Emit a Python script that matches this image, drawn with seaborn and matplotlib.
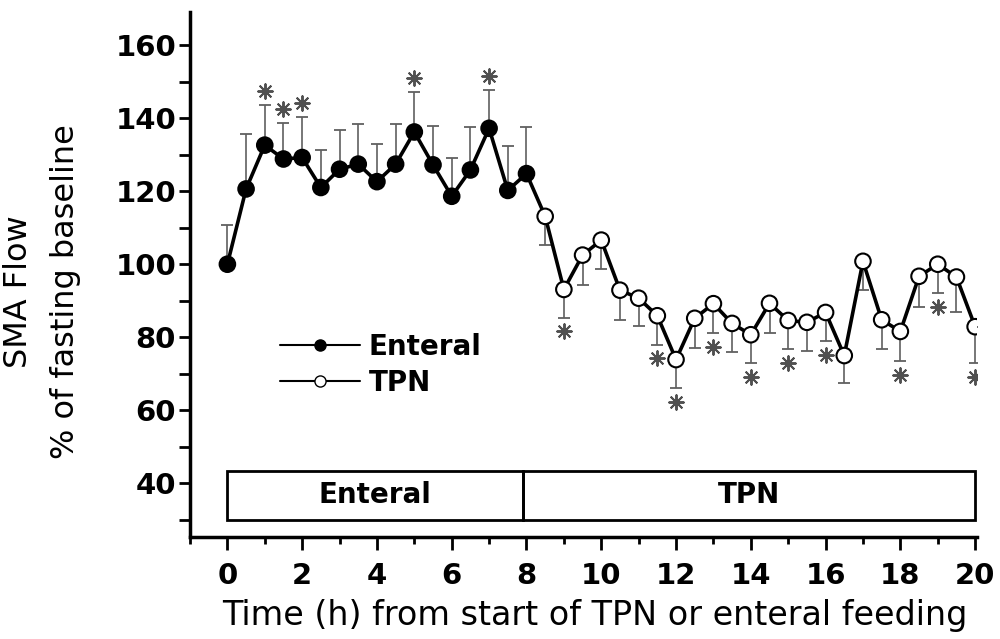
import matplotlib
matplotlib.use('Agg')
import numpy as np
import pandas as pd
import seaborn as sns
import matplotlib.pyplot as plt
from matplotlib.lines import Line2D
from matplotlib.patches import Rectangle
from matplotlib.ticker import MultipleLocator

# dados (media e limite da barra de erro)
enteral_time = [0, 0.5, 1, 1.5, 2, 2.5, 3, 3.5, 4, 4.5, 5, 5.5, 6, 6.5, 7, 7.5, 8]
enteral_mean = [100, 120.6, 132.6, 128.8, 129.2, 121, 126, 127.4, 122.6, 127.4,
                136.2, 127.2, 118.6, 125.8, 137.2, 120.2, 124.8]
enteral_upper = [110.6, 135.6, 143.7, 138.7, 140.3, 131.2, 136.7, 138.5, 132.8, 138.5,
                 147.1, 137.8, 129.2, 137.6, 147.8, 132.3, 137.5]

tpn_time = [8.5, 9, 9.5, 10, 10.5, 11, 11.5, 12, 12.5, 13, 13.5, 14, 14.5, 15,
            15.5, 16, 16.5, 17, 17.5, 18, 18.5, 19, 19.5, 20]
tpn_mean = [113.1, 93.1, 102.5, 106.6, 92.9, 90.7, 85.9, 73.9, 85.2, 89.2, 83.8, 80.7,
            89.3, 84.6, 84.1, 86.8, 75.0, 100.8, 84.8, 81.6, 96.7, 100.0, 96.5, 82.9]
tpn_lower = [105.3, 85.4, 94.4, 98.8, 84.8, 83.0, 78.0, 66.2, 77.1, 81.2, 75.9, 73.0,
             81.2, 76.8, 76.2, 78.9, 67.4, 92.9, 76.8, 73.6, 88.4, 92.2, 86.8, 73.0]

# pontos com diferenca significativa
enteral_star = [1, 1.5, 2, 5, 7]
tpn_star = [9, 11.5, 12, 13, 14, 15, 16, 18, 19, 20]

# faixa com as fases
phase_names = ['Enteral', 'TPN']
phase_start = [0, 7.9]
phase_end = [7.9, 20]

sns.set_style('ticks')
plt.rcParams['font.family'] = ['DejaVu Sans']
for key in ['text.color', 'axes.labelcolor', 'xtick.color', 'ytick.color', 'axes.edgecolor']:
    plt.rcParams[key] = 'black'

df = pd.DataFrame({
    'time': enteral_time + tpn_time,
    'flow': enteral_mean + tpn_mean,
    'group': ['Enteral'] * len(enteral_time) + ['TPN'] * len(tpn_time),
})

fig = plt.figure(figsize=(10, 6.39), dpi=100)
ax = fig.add_axes([0.19, 0.16, 0.787, 0.821])

# barras de erro unilaterais
e_mean = np.array(enteral_mean)
t_mean = np.array(tpn_mean)
ax.errorbar(enteral_time, e_mean,
            yerr=[np.zeros(len(e_mean)), np.array(enteral_upper) - e_mean],
            fmt='none', ecolor='#606060', elinewidth=1.2, capsize=4, capthick=1.3, zorder=1)
ax.errorbar(tpn_time, t_mean,
            yerr=[t_mean - np.array(tpn_lower), np.zeros(len(t_mean))],
            fmt='none', ecolor='#606060', elinewidth=1.2, capsize=4, capthick=1.3, zorder=1)

# linha continua
sns.lineplot(data=df, x='time', y='flow', color='black', linewidth=2.6,
             estimator=None, sort=True, ax=ax, zorder=2)

# marcadores
sns.scatterplot(data=df, x='time', y='flow', hue='group',
                palette={'Enteral': 'black', 'TPN': 'white'},
                edgecolor='black', linewidth=1.5, s=125, legend=False, ax=ax, zorder=3)

# asteriscos
gap = 3.8
idx_e = [enteral_time.index(t) for t in enteral_star]
idx_t = [tpn_time.index(t) for t in tpn_star]
ax.scatter(enteral_star, [enteral_upper[i] + gap for i in idx_e], marker=(8, 2, 0),
           s=110, color='#505050', linewidths=1.4, zorder=3)
ax.scatter(tpn_star, [tpn_lower[i] - gap for i in idx_t], marker=(8, 2, 0),
           s=110, color='#505050', linewidths=1.4, zorder=3)

# caixa das fases
for name, x0, x1 in zip(phase_names, phase_start, phase_end):
    ax.add_patch(Rectangle((x0, 30), x1 - x0, 13.4, fill=False,
                           edgecolor='black', linewidth=2, zorder=2))
    ax.text((x0 + x1) / 2, 36.7, name, ha='center', va='center',
            fontsize=20, fontweight='bold')

ax.set_xlim(-1.0, 20.05)
ax.set_ylim(25.4, 169)
ax.xaxis.set_major_locator(MultipleLocator(2))
ax.xaxis.set_minor_locator(MultipleLocator(1))
ax.set_yticks(range(40, 161, 20))
ax.set_yticks(range(30, 151, 20), minor=True)
ax.tick_params(axis='both', which='major', direction='out', width=2, labelsize=21)
ax.tick_params(axis='x', which='major', length=9, pad=9)
ax.tick_params(axis='x', which='minor', direction='out', width=2, length=5)
ax.tick_params(axis='y', which='both', direction='out', width=2, length=8)
ax.tick_params(axis='y', which='major', pad=2)
for lab in ax.get_xticklabels() + ax.get_yticklabels():
    lab.set_fontweight('bold')

for side in ['top', 'right']:
    ax.spines[side].set_visible(False)
for side in ['left', 'bottom']:
    ax.spines[side].set_linewidth(2.5)

ax.set_xlabel('Time (h) from start of TPN or enteral feeding', fontsize=24)
ax.xaxis.set_label_coords(0.515, -0.118)
ax.set_ylabel('SMA Flow\n% of fasting baseline', fontsize=23, linespacing=1.7,
              va='center')
ax.yaxis.set_label_coords(-0.188, 0.467)

handles = [
    Line2D([], [], color='black', linewidth=1.5, marker='o', markersize=8,
           markerfacecolor='black', markeredgecolor='black'),
    Line2D([], [], color='black', linewidth=1.5, marker='o', markersize=8,
           markerfacecolor='white', markeredgecolor='black'),
]
leg = ax.legend(handles, ['Enteral', 'TPN'], loc='upper left',
                bbox_to_anchor=(0.114, 0.389), frameon=False, borderpad=0,
                borderaxespad=0, handlelength=2.9, handletextpad=0.3,
                labelspacing=0.3, prop={'size': 20, 'weight': 'bold'})

fig.savefig('out.png', dpi=100)
plt.close()
